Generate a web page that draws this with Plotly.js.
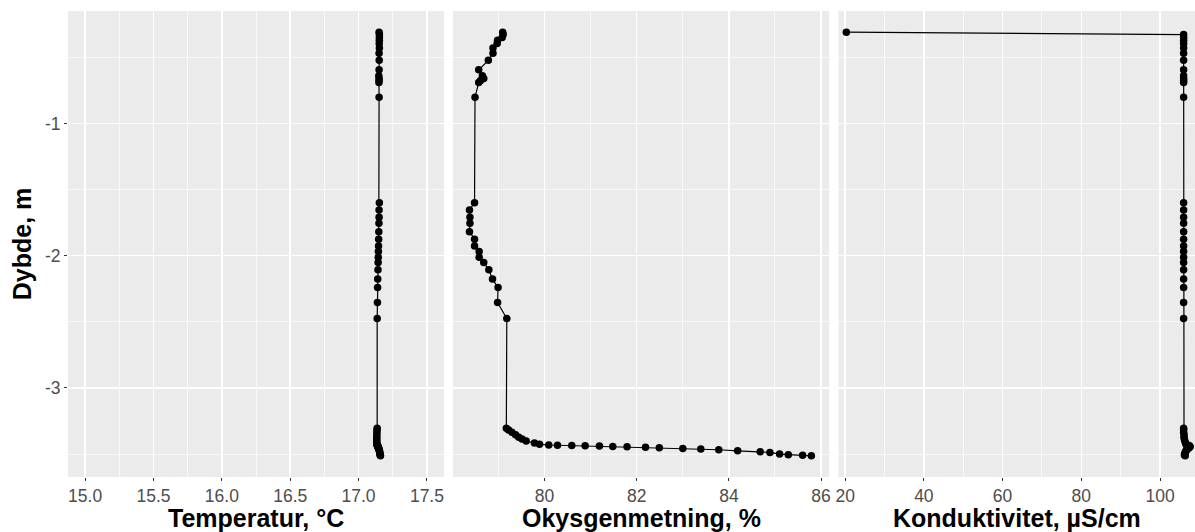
<!DOCTYPE html>
<html>
<head>
<meta charset="utf-8">
<script src="https://cdn.plot.ly/plotly-3.0.1.min.js"></script>
<style>
  html, body { margin: 0; padding: 0; background: #ffffff; }
  #profile { width: 1195px; height: 532px; }
</style>
</head>
<body>
<div id="profile"></div>
<script>
// Depth of each measurement (m, negative downwards), in logging order
const depth = [
  -0.310, -0.328, -0.350, -0.372, -0.395, -0.430, -0.470, -0.523, -0.594, -0.640,
  -0.660, -0.675, -0.690, -0.802,
  -1.599, -1.654, -1.709, -1.755, -1.818, -1.875, -1.926, -1.969, -2.011, -2.052,
  -2.107, -2.177, -2.241, -2.354, -2.475,
  -3.305, -3.317, -3.335, -3.353, -3.373, -3.386, -3.401, -3.416, -3.426, -3.431,
  -3.433, -3.434, -3.437, -3.439, -3.442, -3.444, -3.449, -3.452, -3.457, -3.462,
  -3.467, -3.475, -3.482, -3.487, -3.500, -3.505, -3.508, -3.513
];

// Water temperature, °C
const temperature = [
  17.150, 17.152, 17.152, 17.152, 17.151, 17.152, 17.150, 17.151, 17.150, 17.148,
  17.150, 17.150, 17.149, 17.150,
  17.152, 17.150, 17.150, 17.149, 17.148, 17.147, 17.146, 17.145, 17.144, 17.143,
  17.142, 17.140, 17.139, 17.138, 17.136,
  17.136, 17.135, 17.134, 17.134, 17.133, 17.133, 17.133, 17.134, 17.135, 17.136,
  17.137, 17.138, 17.139, 17.140, 17.141, 17.142, 17.143, 17.145, 17.147, 17.149,
  17.150, 17.152, 17.154, 17.155, 17.157, 17.158, 17.159, 17.160
];

// Oxygen saturation, %
const oxygen = [
  79.09, 79.10, 79.08, 78.98, 78.97, 78.88, 78.88, 78.78, 78.57, 78.65,
  78.68, 78.61, 78.57, 78.49,
  78.48, 78.37, 78.38, 78.38, 78.37, 78.48, 78.48, 78.58, 78.58, 78.68,
  78.79, 78.87, 78.99, 78.98, 79.18,
  79.17, 79.22, 79.29, 79.37, 79.44, 79.51, 79.60, 79.78, 79.89, 80.09,
  80.28, 80.59, 80.88, 81.19, 81.48, 81.79, 82.19, 82.49, 83.00, 83.39,
  83.78, 84.19, 84.68, 84.89, 85.10, 85.29, 85.60, 85.79
];

// Conductivity, µS/cm
const conductivity = [
  20.3, 106.0, 106.0, 106.0, 106.0, 106.0, 106.0, 106.0, 106.0, 106.0,
  106.0, 106.0, 106.0, 106.0,
  106.0, 106.0, 106.0, 106.0, 106.0, 106.0, 106.0, 106.0, 106.0, 106.0,
  106.0, 106.0, 106.0, 106.0, 106.0,
  106.0, 106.0, 106.0, 106.1, 106.1, 106.2, 106.3, 106.5, 106.6, 106.8,
  107.0, 107.2, 107.4, 107.5, 107.6, 107.6, 107.5, 107.3, 107.1, 106.9,
  106.8, 106.6, 106.5, 106.4, 106.3, 106.2, 106.3, 106.4
];

// Axis titles and depth tick labels
const depthTitle = 'Dybde, m';
const panelTitles = ['Temperatur, °C', 'Okysgenmetning, %', 'Konduktivitet, µS/cm'];
const depthTicks = [-3, -2, -1];
const depthTickText = ['-3', '-2', '-1'];

// Page geometry (px)
const W = 1195, H = 532;
const padL = 67.5, padR = 0, padT = 10.7, padB = 532 - 477.5;
const areaW = W - padL - padR;
const areaH = H - padT - padB;
const panelPx = [[67.5, 443.7], [452.7, 829.0], [838.3, 1195.0]];
const dom = panelPx.map(p => [(p[0] - padL) / areaW, (p[1] - padL) / areaW]);
const xTitleTopPx = 504;   // top of the x-axis title boxes

const tickFont = { family: 'Liberation Sans, Arial, sans-serif', size: 17.5, color: '#4D4D4D' };
const titleFont = { family: 'Liberation Sans, Arial, sans-serif', size: 25, color: '#000000', weight: 'bold' };

function xAxis(i, range, dtick, fmt, anchor) {
  return {
    domain: dom[i],
    range: range,
    anchor: anchor,
    tick0: 0,
    dtick: dtick,
    tickformat: fmt,
    ticks: 'outside',
    ticklen: 3,
    tickwidth: 1,
    tickcolor: '#333333',
    tickfont: tickFont,
    showgrid: true,
    gridcolor: '#FFFFFF',
    gridwidth: 1.5,
    minor: { dtick: dtick / 2, tick0: 0, showgrid: true, gridcolor: '#FFFFFF', gridwidth: 0.7, ticks: '' },
    zeroline: false,
    showline: false,
    fixedrange: true,
    automargin: false
  };
}

function yAxis(i, showLabels) {
  const ax = {
    domain: [0, 1],
    range: [-3.673, -0.150],
    anchor: i === 0 ? 'x' : 'x' + (i + 1),
    tickvals: depthTicks,
    ticktext: depthTickText,
    ticks: showLabels ? 'outside' : '',
    ticklen: 3,
    tickwidth: 1,
    tickcolor: '#333333',
    tickfont: tickFont,
    showticklabels: showLabels,
    showgrid: true,
    gridcolor: '#FFFFFF',
    gridwidth: 1.5,
    minor: { tickvals: [-3.5, -2.5, -1.5, -0.5], showgrid: true, gridcolor: '#FFFFFF', gridwidth: 0.7, ticks: '' },
    zeroline: false,
    showline: false,
    fixedrange: true,
    automargin: false
  };
  if (showLabels) {
    ax.title = { text: depthTitle, font: titleFont, standoff: 6 };
  } else {
    ax.matches = 'y';
  }
  return ax;
}

// Panel titles under each x axis
const xTitles = panelTitles.map((txt, i) => ({
  text: txt,
  font: titleFont,
  xref: (i === 0 ? 'x' : 'x' + (i + 1)) + ' domain',
  x: 0.5,
  xanchor: 'center',
  yref: 'paper',
  y: -(xTitleTopPx - (padT + areaH)) / areaH,
  yanchor: 'top',
  showarrow: false,
  borderpad: 0
}));

const pointStyle = { color: '#000000', size: 7.5 };
const lineStyle = { color: '#000000', width: 1.2 };

const traces = [
  { x: temperature, y: depth, xaxis: 'x', yaxis: 'y' },
  { x: oxygen, y: depth, xaxis: 'x2', yaxis: 'y2' },
  { x: conductivity, y: depth, xaxis: 'x3', yaxis: 'y3' }
].map(t => Object.assign(t, {
  type: 'scatter',
  mode: 'lines+markers',
  marker: pointStyle,
  line: lineStyle,
  showlegend: false,
  hoverinfo: 'x+y'
}));

const layout = {
  width: W,
  height: H,
  margin: { l: padL, r: padR, t: padT, b: padB, pad: 0 },
  paper_bgcolor: '#FFFFFF',
  plot_bgcolor: '#EBEBEB',
  showlegend: false,
  xaxis: xAxis(0, [14.875, 17.625], 0.5, '.1f', 'y'),
  xaxis2: xAxis(1, [78.013, 86.176], 2, 'd', 'y2'),
  xaxis3: xAxis(2, [18.30, 108.89], 20, 'd', 'y3'),
  yaxis: yAxis(0, true),
  yaxis2: yAxis(1, false),
  yaxis3: yAxis(2, false),
  annotations: xTitles
};

Plotly.newPlot('profile', traces, layout, { staticPlot: true, displayModeBar: false });
</script>
</body>
</html>
